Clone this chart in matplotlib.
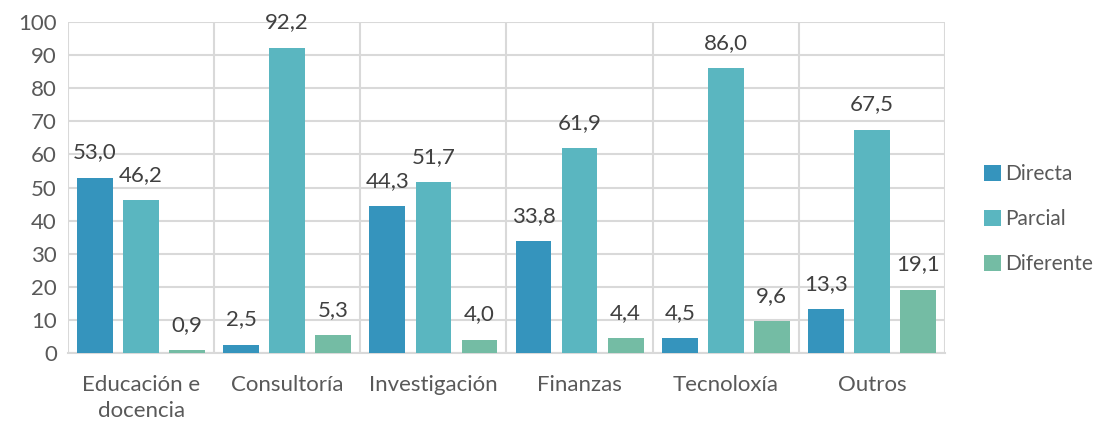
import matplotlib.pyplot as plt
import numpy as np

plt.rcParams['font.family'] = ['Lato', 'DejaVu Sans']

# Datos
categorias = ["Educación e\ndocencia", "Consultoría", "Investigación", "Finanzas", "Tecnoloxía", "Outros"]
directa = [53.0, 2.5, 44.3, 33.8, 4.5, 13.3]
parcial = [46.2, 92.2, 51.7, 61.9, 86.0, 67.5]
diferente = [0.9, 5.3, 4.0, 4.4, 9.6, 19.1]

series = [("Directa", directa, "#3594bd"),
          ("Parcial", parcial, "#5ab6c0"),
          ("Diferente", diferente, "#74bca4")]

fig = plt.figure(figsize=(10.99, 4.24), dpi=100)
ax = fig.add_axes([68 / 1099, 1 - 353 / 424, (945 - 68) / 1099, (353 - 22) / 424])

x = np.arange(len(categorias))
ancho = 0.245
desp = 0.315
texto = "#404040"
fs = 16

for i, (nombre, valores, color) in enumerate(series):
    pos = x + (i - 1) * desp
    barras = ax.bar(pos, valores, width=ancho, color=color, label=nombre, zorder=3)
    for b, v in zip(barras, valores):
        ax.text(b.get_x() + b.get_width() / 2, v + 4.6, f"{v:.1f}".replace(".", ","),
                ha="center", va="bottom", fontsize=fs, color=texto)

ax.set_xlim(-0.5, len(categorias) - 0.5)
ax.set_ylim(0, 100)
ax.set_yticks(range(0, 101, 10))
ax.set_xticks(x)
ax.set_xticklabels(categorias, fontsize=fs, color="#595959", linespacing=1.35)
ax.tick_params(axis="y", labelsize=fs, labelcolor="#595959", length=0, pad=8)
ax.tick_params(axis="x", length=0, pad=16)

# Rejilla
ax.grid(axis="y", color="#d9d9d9", linewidth=1.5, zorder=0)
for s in np.arange(-0.5, len(categorias) + 0.5, 1):
    ax.axvline(s, color="#d9d9d9", linewidth=1.5, zorder=0)
for lado in ["top", "right", "left"]:
    ax.spines[lado].set_visible(False)
ax.spines["bottom"].set_color("#d9d9d9")
ax.spines["bottom"].set_linewidth(1.5)

leg = ax.legend(loc="center left", bbox_to_anchor=(1.045, 0.405), frameon=False,
                fontsize=15, handlelength=0.8, handleheight=0.8, handletextpad=0.2,
                labelspacing=1.2, borderpad=0, borderaxespad=0)
for t in leg.get_texts():
    t.set_color("#595959")

fig.savefig("out.png", dpi=100)
